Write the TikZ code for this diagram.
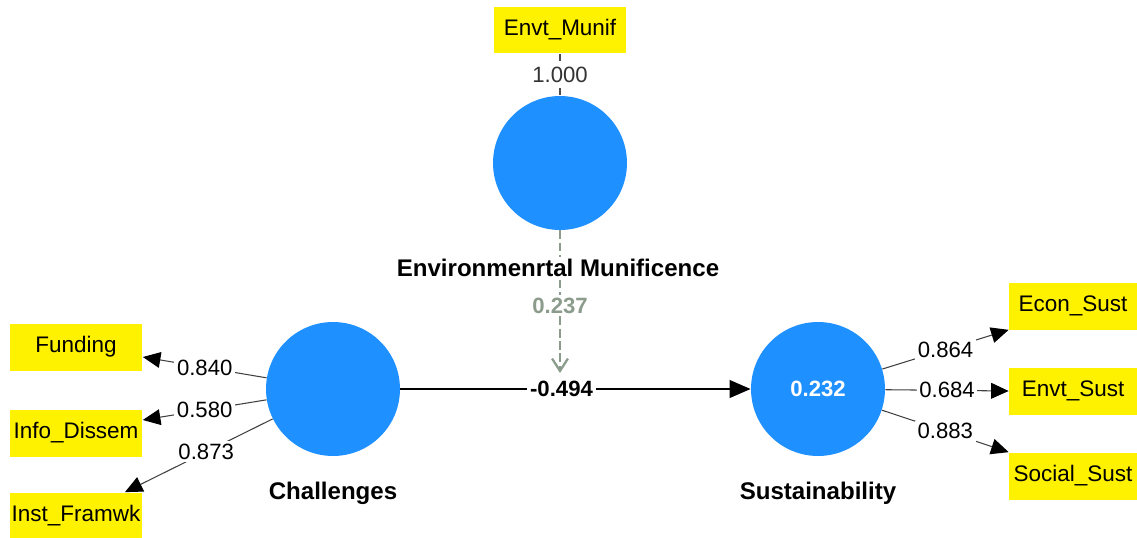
\documentclass[tikz,border=0pt]{standalone}
\usepackage{fontspec}
\setmainfont{Liberation Sans}
\usetikzlibrary{arrows.meta}
\definecolor{plsblue}{HTML}{1E90FF}
\definecolor{modgray}{HTML}{8C9C8C}
\begin{document}
\begin{tikzpicture}[x=0.02cm, y=-0.02cm, font=\fontsize{12.6}{14}\selectfont,
  latent/.style={circle, fill=plsblue, minimum size=2.68cm, inner sep=0pt},
  indicator/.style={fill=yellow, minimum width=2.66cm, minimum height=0.94cm, inner sep=0pt, font=\fontsize{12.8}{14}\selectfont},
  vname/.style={fill=white, inner sep=1pt, font=\fontsize{13.7}{15}\selectfont\bfseries},
  wt/.style={fill=white, inner sep=1.5pt},
  loading/.style={draw=black!75, line width=0.6pt, -{Triangle[length=10pt, width=9pt, color=black]}}]
  \useasboundingbox (0,0) rectangle (1137,538);
  % latent variables
  \node[latent] (em) at (560,163) {};
  \node[latent] (chal) at (333,389) {};
  \node[latent, text=white, font=\fontsize{12.6}{14}\selectfont\bfseries] (sust) at (818,389) {0.232};
  % indicators
  \node[indicator] (munif) at (560,30) {Envt\_Munif};
  \node[indicator] (fund) at (76,347) {Funding};
  \node[indicator] (info) at (76,433) {Info\_Dissem};
  \node[indicator] (inst) at (76,516) {Inst\_Framwk};
  \node[indicator, minimum width=2.56cm] (econ) at (1073,306) {Econ\_Sust};
  \node[indicator, minimum width=2.56cm] (envt) at (1073,391) {Envt\_Sust};
  \node[indicator, minimum width=2.56cm] (soc) at (1073,476) {Social\_Sust};
  % outer loadings
  \draw[draw=black!70, line width=1pt, dash pattern=on 4pt off 2.5pt] (munif) -- (em) node[wt, midway, text=black!80] {1.000};
  \draw[loading] (chal) -- ([yshift=-5.7pt]fund.east) node[wt, pos=0.5] {0.840};
  \draw[loading] (chal) -- ([yshift=7.4pt]info.east) node[wt, pos=0.5] {0.580};
  \draw[loading] (chal) -- ([xshift=-10.2pt]inst.north east) node[wt, pos=0.45] {0.873};
  \draw[loading] (sust) -- (econ.south west) node[wt, pos=0.5] {0.864};
  \draw[loading] (sust) -- (envt.west) node[wt, pos=0.5] {0.684};
  \draw[loading] (sust) -- (soc.north west) node[wt, pos=0.5] {0.883};
  % structural path and moderating effect
  \draw[line width=1.4pt, -{Triangle[length=12pt, width=10pt]}] (chal) -- (sust) node[wt, pos=0.46, font=\fontsize{12.6}{14}\selectfont\bfseries] {-0.494};
  \coordinate (modtip) at (560,373);
  \draw[modgray, line width=1.3pt, dash pattern=on 5pt off 2pt, -{Straight Barb[length=7pt, width=9pt]}] (em) -- (modtip) node[wt, pos=0.53, font=\fontsize{12.6}{14}\selectfont\bfseries] {0.237};
  % names
  \node[vname] (emname) at (558,268) {Environmenrtal Munificence};
  \node[vname] (chalname) at (333,493) {Challenges};
  \node[vname] (sustname) at (818,493) {Sustainability};
\end{tikzpicture}
\end{document}
